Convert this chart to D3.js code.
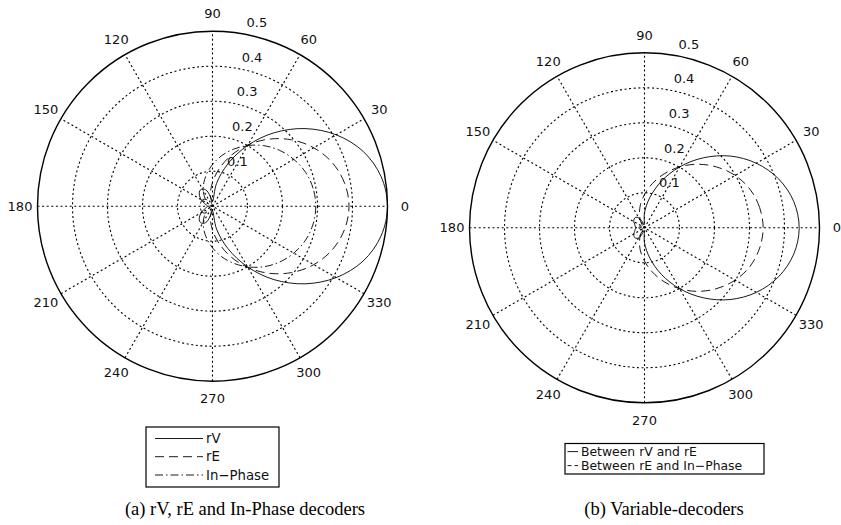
<!DOCTYPE html>
<html><head><meta charset="utf-8">
<script src="https://cdn.jsdelivr.net/npm/d3@7/dist/d3.min.js"></script>
<style>body{margin:0;background:#fff}svg{display:block}</style>
</head><body>
<svg id="c" width="841" height="525"></svg>
<script>
// ---- data ----
const angleDeg = [0,10,20,30,40,50,60,70,80,90,100,110,120,130,140,150,160,170,180,190,200,210,220,230,240,250,260,270,280,290,300,310,320,330,340,350];
const ringTicks = [0.1,0.2,0.3,0.4,0.5];
const ringLabels = ["0.1","0.2","0.3","0.4","0.5"];
const spokeAngles = [0,30,60,90,120,150,180,210,240,270,300,330];
const spokeLabels = ["0","30","60","90","120","150","180","210","240","270","300","330"];

// (a) decoders
const rV      = [0.500,0.489,0.458,0.408,0.345,0.274,0.200,0.129,0.066,0.014,0.023,0.047,0.057,0.057,0.049,0.037,0.025,0.017,0.014,0.017,0.025,0.037,0.049,0.057,0.057,0.047,0.023,0.014,0.066,0.129,0.200,0.274,0.345,0.408,0.458,0.489];
const rE      = [0.390,0.383,0.364,0.334,0.295,0.250,0.202,0.154,0.108,0.068,0.035,0.008,0.011,0.023,0.031,0.034,0.035,0.035,0.035,0.035,0.035,0.034,0.031,0.023,0.011,0.008,0.035,0.068,0.108,0.154,0.202,0.250,0.295,0.334,0.364,0.383];
const inPhase = [0.295,0.292,0.283,0.268,0.249,0.226,0.200,0.173,0.146,0.119,0.094,0.072,0.053,0.036,0.023,0.013,0.006,0.001,0.000,0.001,0.006,0.013,0.023,0.036,0.053,0.072,0.094,0.119,0.146,0.173,0.200,0.226,0.249,0.268,0.283,0.292];

// (b) variable decoders
const betweenVE = [0.442,0.433,0.408,0.369,0.319,0.261,0.201,0.142,0.088,0.043,0.008,0.018,0.033,0.039,0.039,0.035,0.030,0.027,0.025,0.027,0.030,0.035,0.039,0.039,0.033,0.018,0.008,0.043,0.088,0.142,0.201,0.261,0.319,0.369,0.408,0.433];
const betweenEI = [0.339,0.334,0.321,0.299,0.270,0.237,0.201,0.164,0.128,0.095,0.067,0.042,0.023,0.009,0.002,0.009,0.013,0.015,0.016,0.015,0.013,0.009,0.002,0.009,0.023,0.042,0.067,0.095,0.128,0.164,0.201,0.237,0.270,0.299,0.321,0.334];

const legendA = ["rV","rE","In\u2212Phase"];
const legendB = ["Between rV and rE","Between rE and In\u2212Phase"];
const captionA = "(a) rV, rE and In-Phase decoders";
const captionB = "(b) Variable-decoders";

// ---- drawing ----
const svg = d3.select("#c");
const R = 175;
const rs = d3.scaleLinear().domain([0, 0.5]).range([0, R]);
const DOT = "2,2.6";
const SANS = "DejaVu Sans, Liberation Sans, Arial, sans-serif";
const styles = {solid: null, dashed: "9,5", dashdot: "8,3,1.5,3"};

function rad(a){ return a*Math.PI/180; }

function drawPolar(cx, cy, series){
  const g = svg.append("g").attr("transform", `translate(${cx},${cy})`);
  g.append("circle").attr("r", R).attr("fill", "#fff");
  ringTicks.slice(0, -1).forEach(t => {
    g.append("circle").attr("r", rs(t)).attr("fill", "none")
     .attr("stroke", "#000").attr("stroke-width", 1.1).attr("stroke-dasharray", DOT);
  });
  spokeAngles.filter(a => a < 180).forEach(a => {
    g.append("line")
      .attr("x1", -R*Math.cos(rad(a))).attr("y1", R*Math.sin(rad(a)))
      .attr("x2",  R*Math.cos(rad(a))).attr("y2", -R*Math.sin(rad(a)))
      .attr("stroke", "#000").attr("stroke-width", 1.1).attr("stroke-dasharray", DOT);
  });
  g.append("circle").attr("r", R).attr("fill", "none").attr("stroke", "#000").attr("stroke-width", 1.4);

  spokeAngles.forEach((a, i) => {
    g.append("text").attr("x", 1.1*R*Math.cos(rad(a))).attr("y", -1.1*R*Math.sin(rad(a)))
      .attr("text-anchor", "middle").attr("dominant-baseline", "central")
      .attr("font-family", SANS).attr("font-size", 13).attr("fill", "#111").text(spokeLabels[i]);
  });
  ringTicks.forEach((t, i) => {
    const rr = rs(t + 0.005);
    g.append("text").attr("x", rr*Math.cos(rad(82)) + 9.5).attr("y", -rr*Math.sin(rad(82)) - 4)
      .attr("font-family", SANS).attr("font-size", 13).attr("fill", "#111").text(ringLabels[i]);
  });

  const line = d3.lineRadial()
    .angle(d => rad(90 - d[0]))
    .radius(d => rs(d[1]))
    .curve(d3.curveCatmullRomClosed.alpha(0.5));
  series.forEach(s => {
    const pts = angleDeg.map((a, i) => [a, s.values[i]]);
    g.append("path").attr("d", line(pts)).attr("fill", "none")
      .attr("stroke", "#000").attr("stroke-width", 0.9)
      .attr("stroke-dasharray", s.dash);
  });
}

drawPolar(212.5, 206.2, [
  {values: rV, dash: styles.solid},
  {values: rE, dash: styles.dashed},
  {values: inPhase, dash: styles.dashdot}
]);
drawPolar(644.5, 227.8, [
  {values: betweenVE, dash: styles.solid},
  {values: betweenEI, dash: styles.dashed}
]);

function legend(x, y, w, h, rowsY, lx1, lx2, tx, labels, dashes, fs){
  const g = svg.append("g");
  g.append("rect").attr("x", x).attr("y", y).attr("width", w).attr("height", h)
    .attr("fill", "#fff").attr("stroke", "#000").attr("stroke-width", 1.2);
  labels.forEach((lab, i) => {
    g.append("line").attr("x1", lx1).attr("x2", lx2).attr("y1", rowsY[i]).attr("y2", rowsY[i])
      .attr("stroke", "#000").attr("stroke-width", 0.9).attr("stroke-dasharray", dashes[i]);
    g.append("text").attr("x", tx).attr("y", rowsY[i]).attr("dominant-baseline", "central")
      .attr("font-family", SANS).attr("font-size", fs).attr("fill", "#111").text(lab);
  });
}
legend(146, 427, 133, 60, [438.5, 456.7, 475], 155, 203, 206, legendA,
       [styles.solid, styles.dashed, styles.dashdot], 13.3);
legend(565, 443.5, 199, 30.5, [451.6, 465.6], 567.5, 578, 581, legendB,
       [styles.solid, "4,3"], 12.4);

svg.append("text").attr("x", 245).attr("y", 515).attr("text-anchor", "middle")
  .attr("font-family", "Liberation Serif, Times New Roman, serif").attr("font-size", 18.5).text(captionA);
svg.append("text").attr("x", 664).attr("y", 515).attr("text-anchor", "middle")
  .attr("font-family", "Liberation Serif, Times New Roman, serif").attr("font-size", 18.5).text(captionB);
</script>
</body></html>
